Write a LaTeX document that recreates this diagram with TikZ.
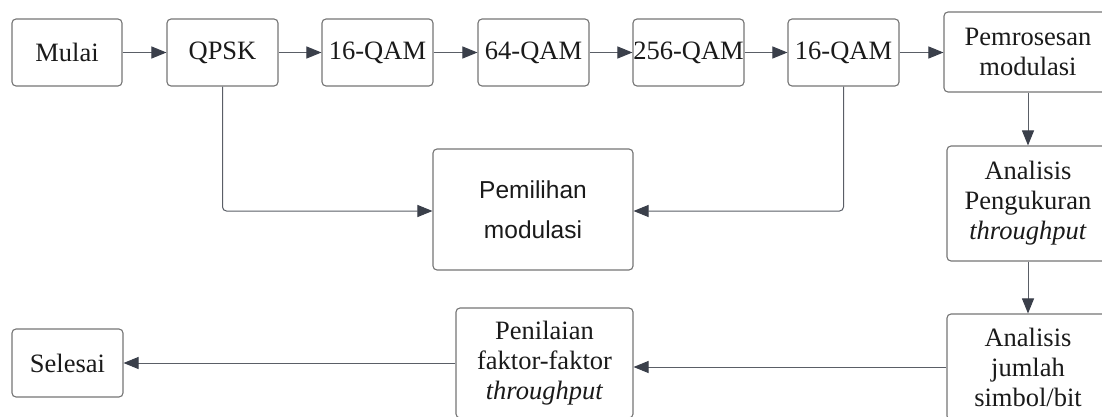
\documentclass[tikz,border=0pt]{standalone}
\usepackage{fontspec}
\setmainfont{Liberation Serif}
\newfontfamily\sansfam{Liberation Sans}
\usetikzlibrary{arrows.meta,positioning}
\definecolor{boxline}{HTML}{757575}
\definecolor{conn}{HTML}{5A5E66}
\definecolor{tip}{HTML}{3A3F4A}
\definecolor{txt}{HTML}{1A1A1A}
\tikzset{
  flowbox/.style={draw=boxline, line width=1.1pt, rounded corners=4pt, fill=white,
    align=center, inner sep=0pt, text=txt, font=\fontsize{26.5}{30}\selectfont},
  conline/.style={draw=conn, line width=1pt, rounded corners=4pt,
    -{Triangle[length=15pt,width=12pt,fill=tip,color=tip]}},
}
\begin{document}
\begin{tikzpicture}[x=1pt,y=-1pt]
\clip (0,0) rectangle (1102,417);
\useasboundingbox (0,0) rectangle (1102,417);
\fill[white] (0,0) rectangle (1102,417);
% top row
\node[flowbox, minimum width=110pt, minimum height=67pt] (mulai) at (67,52.5) {Mulai};
\node[flowbox, minimum width=111pt, minimum height=67pt] (qpsk) at (222.5,52.5) {QPSK};
\node[flowbox, minimum width=111pt, minimum height=67pt] (qama) at (377.5,52.5) {16-QAM};
\node[flowbox, minimum width=111pt, minimum height=67pt] (qamb) at (533.5,52.5) {64-QAM};
\node[flowbox, minimum width=111pt, minimum height=67pt] (qamc) at (688.5,52.5) {256-QAM};
\node[flowbox, minimum width=111pt, minimum height=67pt] (qamd) at (843.5,52.5) {16-QAM};
\node[flowbox, minimum width=168pt, minimum height=80pt] (proc) at (1028,52) {Pemrosesan\\modulasi};
% right column
\node[flowbox, minimum width=162pt, minimum height=115pt] (anap) at (1028,203.5) {Analisis\\Pengukuran\\\textit{throughput}};
\node[flowbox, minimum width=162pt, minimum height=106pt] (anaj) at (1028,367) {Analisis\\jumlah\\simbol/bit};
% bottom row
\node[flowbox, minimum width=177pt, minimum height=110pt] (nilai) at (544.5,363) {Penilaian\\faktor-faktor\\\textit{throughput}};
\node[flowbox, minimum width=111pt, minimum height=68pt] (selesai) at (67.5,363) {Selesai};
% middle
\node[flowbox, minimum width=200pt, minimum height=121pt, font=\sansfam\fontsize{24.5}{40}\selectfont] (pilih) at (533,209.5) {Pemilihan\\modulasi};
\coordinate (pj) at (pilih.west |- 0,211);
\coordinate (pk) at (pilih.east |- 0,211);
% connectors
\draw[conline] (mulai) -- (qpsk);
\draw[conline] (qpsk) -- (qama);
\draw[conline] (qama) -- (qamb);
\draw[conline] (qamb) -- (qamc);
\draw[conline] (qamc) -- (qamd);
\draw[conline] (qamd) -- (proc.west |- qamd);
\draw[conline] (qpsk.south) |- (pj);
\draw[conline] (qamd.south) |- (pk);
\draw[conline] (proc) -- (anap);
\draw[conline] (anap) -- (anaj);
\draw[conline] (anaj.west) -- (nilai.east |- anaj.west);
\draw[conline] (nilai.west |- selesai.east) -- (selesai.east);
\end{tikzpicture}
\end{document}
